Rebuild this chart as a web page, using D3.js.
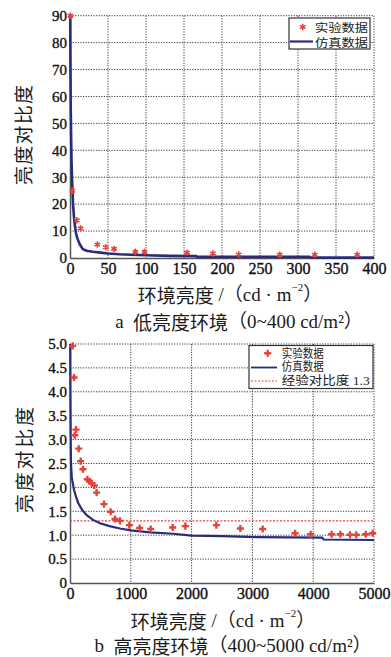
<!DOCTYPE html>
<html><head><meta charset="utf-8">
<script src="https://cdn.jsdelivr.net/npm/d3@7/dist/d3.min.js"></script>
<style>
html,body{margin:0;padding:0;background:#fff;}
svg{display:block;}
.serif{font-family:"Liberation Serif","Times New Roman",Tinos,"DejaVu Serif","Noto Sans CJK SC",serif;}
.cjk{font-family:"Noto Sans CJK SC","Noto Sans CJK JP",sans-serif;}
</style></head>
<body><svg id="c" width="391" height="657"></svg>
<script>
// ---------- data ----------
const lowTicksX = [0, 50, 100, 150, 200, 250, 300, 350, 400];
const lowTicksY = [0, 10, 20, 30, 40, 50, 60, 70, 80, 90];
const lowExpX = [0.5, 3, 9, 14, 36, 47, 58, 86, 98, 154, 188, 222, 276, 322, 378];
const lowExpY = [90, 25, 14, 11, 5, 4, 3.4, 2.3, 2.3, 2.0, 1.7, 1.3, 1.2, 1.2, 1.2];
const lowSimX = [0.3, 0.6, 1, 1.5, 2, 3, 4, 5, 6, 8, 10, 13, 17, 22, 30, 40, 50, 65, 80, 100, 130, 166, 167, 315, 316, 400];
const lowSimY = [90, 70, 55, 45, 36, 27, 20, 16, 13, 9, 7, 5, 3.3, 2.7, 2.3, 2.0, 1.7, 1.4, 1.2, 1.0, 0.8, 0.7, 0.4, 0.4, 0.15, 0.15];

const highTicksX = [0, 1000, 2000, 3000, 4000, 5000];
const highTicksY = [0, 0.5, 1.0, 1.5, 2.0, 2.5, 3.0, 3.5, 4.0, 4.5, 5.0];
const highExpX = [44, 66, 77, 99, 143, 176, 214, 285, 318, 356, 400, 438, 559, 669, 740, 822, 976, 1146, 1327, 1689, 1897, 2407, 2802, 3169, 3701, 3958, 4303, 4446, 4605, 4709, 4863, 4978];
const highExpY = [4.96, 4.30, 3.09, 3.21, 2.81, 2.55, 2.38, 2.17, 2.13, 2.09, 2.04, 1.89, 1.65, 1.49, 1.34, 1.30, 1.21, 1.15, 1.13, 1.16, 1.19, 1.21, 1.14, 1.13, 1.04, 1.02, 1.02, 1.02, 1.01, 1.01, 1.02, 1.04];
const highSimX = [3, 6, 10, 16, 30, 66, 100, 137, 200, 274, 380, 493, 650, 822, 1000, 1316, 1700, 2000, 2500, 3070, 4150, 4170, 5000];
const highSimY = [5.0, 4.0, 3.2, 2.5, 2.2, 1.95, 1.8, 1.67, 1.53, 1.42, 1.32, 1.25, 1.19, 1.14, 1.10, 1.06, 1.03, 0.99, 0.98, 0.96, 0.95, 0.91, 0.90];
const empiricalContrast = [1.3];

const yTitle = "亮度对比度";
const legendLow = ["实验数据", "仿真数据"];
const legendHigh = ["实验数据", "仿真数据", "经验对比度 1.3"];

// ---------- styles ----------
const RED = "#e4433c", BLUE = "#2b2c78", GRID = "#3a3a3a", INK = "#1a1a1a";
const svg = d3.select("#c");

function panel(cfg) {
  const g = svg.append("g");
  const x = d3.scaleLinear().domain(cfg.xDomain).range([cfg.left, cfg.right]);
  const y = d3.scaleLinear().domain(cfg.yDomain).range([cfg.bottom, cfg.top]);
  g.append("g").selectAll("line").data(cfg.xTicks.filter(d => d !== 0)).join("line")
    .attr("x1", d => x(d)).attr("x2", d => x(d)).attr("y1", cfg.top).attr("y2", cfg.bottom)
    .attr("stroke", GRID).attr("stroke-width", 1).attr("stroke-dasharray", "1.2,1.4");
  g.append("g").selectAll("line").data(cfg.yTicks.filter(d => d !== 0)).join("line")
    .attr("y1", d => y(d)).attr("y2", d => y(d)).attr("x1", cfg.left).attr("x2", cfg.right)
    .attr("stroke", GRID).attr("stroke-width", 1).attr("stroke-dasharray", "1.2,1.4");
  const ax = g.append("g").attr("transform", `translate(0,${cfg.bottom})`)
    .call(d3.axisBottom(x).tickValues(cfg.xTicks).tickSize(0).tickPadding(5).tickFormat(d3.format("d")));
  const ay = g.append("g").attr("transform", `translate(${cfg.left},0)`)
    .call(d3.axisLeft(y).tickValues(cfg.yTicks).tickSize(0).tickPadding(3).tickFormat(cfg.yFormat));
  [ax, ay].forEach(a => {
    a.attr("font-family", null).attr("font-size", null);
    a.select(".domain").attr("stroke", "#555").attr("stroke-width", 1.5);
    a.selectAll("text").attr("class", "serif").attr("fill", "#111")
      .attr("stroke", "#111").attr("stroke-width", 0.35);
  });
  ax.selectAll("text").attr("font-size", 16);
  ay.selectAll("text").attr("font-size", 15);
  return {g, x, y};
}

function line(p, xs, ys, color, w, dash) {
  const pts = xs.map((d, i) => [d, ys[i]]);
  p.g.append("path").datum(pts)
    .attr("d", d3.line().x(d => p.x(d[0])).y(d => p.y(d[1])))
    .attr("fill", "none").attr("stroke", color).attr("stroke-width", w)
    .attr("stroke-dasharray", dash || null);
}

function titles(cfg) {
  svg.append("text").attr("class", "cjk")
    .attr("transform", `translate(${cfg.ytx},${cfg.yty}) rotate(-90)`)
    .attr("text-anchor", "middle").attr("dominant-baseline", "central")
    .attr("font-size", 19).attr("fill", INK)
    .attr("textLength", cfg.ytLen).attr("lengthAdjust", "spacing")
    .text(yTitle);
  const t = svg.append("text").attr("class", "serif").attr("x", cfg.xtx).attr("y", cfg.xty)
    .attr("text-anchor", "middle").attr("dominant-baseline", "central")
    .attr("font-size", 19).attr("fill", INK);
  t.append("tspan").attr("class", "cjk").text("环境亮度");
  t.append("tspan").text(" /（cd · m");
  t.append("tspan").attr("font-size", 11).attr("dy", -7).text("−2");
  t.append("tspan").attr("dy", 7).text("）");
  const c = svg.append("text").attr("class", "serif").attr("x", cfg.cx).attr("y", cfg.cy)
    .attr("text-anchor", "middle").attr("dominant-baseline", "central")
    .attr("font-size", 19).attr("fill", INK);
  c.append("tspan").text(cfg.capLetter + "\u00a0\u00a0");
  c.append("tspan").attr("class", "cjk").text(cfg.capText);
  c.append("tspan").text("（" + cfg.capRange + " cd/m²）");
}

// ---------- panel a ----------
const pa = panel({left: 70, right: 374, top: 15.7, bottom: 258,
  xDomain: [0, 400], yDomain: [0, 90], xTicks: lowTicksX, yTicks: lowTicksY, yFormat: d3.format("d")});
line(pa, lowSimX, lowSimY, BLUE, 2.6);
pa.g.append("g").selectAll("path").data(lowExpX.map((d, i) => [d, lowExpY[i]])).join("path")
  .attr("transform", d => `translate(${pa.x(d[0])},${pa.y(d[1])})`)
  .attr("d", d3.symbol(d3.symbolAsterisk, 28))
  .attr("stroke", RED).attr("stroke-width", 1.6).attr("fill", "none");
titles({ytx: 22.5, yty: 135, ytLen: 100, xtx: 230, xty: 293.5, cx: 239, cy: 321,
  capLetter: "a", capText: "低亮度环境", capRange: "0~400"});

const la = svg.append("g");
la.append("rect").attr("x", 289).attr("y", 18).attr("width", 81).attr("height", 31)
  .attr("fill", "#fff").attr("stroke", "#333").attr("stroke-width", 1.2);
la.append("path").attr("transform", "translate(302.7,27)").attr("d", d3.symbol(d3.symbolAsterisk, 28))
  .attr("stroke", RED).attr("stroke-width", 1.6).attr("fill", "none");
la.append("line").attr("x1", 290).attr("x2", 313).attr("y1", 41.5).attr("y2", 41.5)
  .attr("stroke", BLUE).attr("stroke-width", 2.2);
la.selectAll("text").data(legendLow).join("text").attr("class", "cjk")
  .attr("x", 315).attr("y", (d, i) => 27 + i * 15).attr("dominant-baseline", "central")
  .attr("font-size", 11).attr("fill", INK)
  .attr("textLength", 53).attr("lengthAdjust", "spacingAndGlyphs").text(d => d);

// ---------- panel b ----------
const pb = panel({left: 70, right: 374, top: 344, bottom: 583,
  xDomain: [0, 5000], yDomain: [0, 5], xTicks: highTicksX, yTicks: highTicksY,
  yFormat: d => d === 0 ? "0" : d3.format(".1f")(d)});
pb.g.append("g").selectAll("line").data(empiricalContrast).join("line")
  .attr("x1", pb.x(0)).attr("x2", pb.x(5000)).attr("y1", d => pb.y(d)).attr("y2", d => pb.y(d))
  .attr("stroke", RED).attr("stroke-width", 1.2).attr("stroke-dasharray", "2,1.5");
line(pb, highSimX, highSimY, BLUE, 2.2);
pb.g.append("g").selectAll("path").data(highExpX.map((d, i) => [d, highExpY[i]])).join("path")
  .attr("transform", d => `translate(${pb.x(d[0])},${pb.y(d[1])})`)
  .attr("d", d3.symbol(d3.symbolCross, 28)).attr("fill", RED);
titles({ytx: 23, yty: 460, ytLen: 106, xtx: 223, xty: 620, cx: 233, cy: 645,
  capLetter: "b", capText: "高亮度环境", capRange: "400~5000"});

const lb = svg.append("g");
lb.append("rect").attr("x", 249).attr("y", 345.5).attr("width", 124).attr("height", 43)
  .attr("fill", "#fff").attr("stroke", "#333").attr("stroke-width", 1.2);
lb.append("path").attr("transform", "translate(267.7,353.3)").attr("d", d3.symbol(d3.symbolCross, 28))
  .attr("fill", RED);
lb.append("line").attr("x1", 251).attr("x2", 277).attr("y1", 367.5).attr("y2", 367.5)
  .attr("stroke", BLUE).attr("stroke-width", 1.8);
lb.append("line").attr("x1", 251).attr("x2", 277).attr("y1", 381).attr("y2", 381)
  .attr("stroke", RED).attr("stroke-width", 1.2).attr("stroke-dasharray", "2,1.5");
lb.selectAll("text").data(legendHigh).join("text").attr("class", "serif")
  .attr("x", 281.7).attr("y", (d, i) => 353.5 + i * 13.5).attr("dominant-baseline", "central")
  .attr("font-size", 12).attr("fill", INK)
  .attr("textLength", (d, i) => i === 2 ? 88 : 42).attr("lengthAdjust", "spacingAndGlyphs").text(d => d);
</script></body></html>
